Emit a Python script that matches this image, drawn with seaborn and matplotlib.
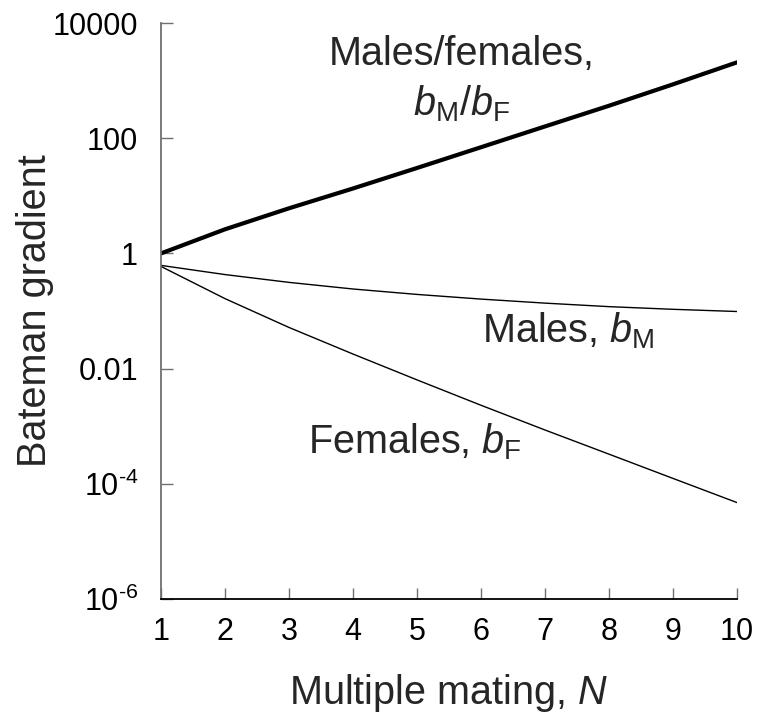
import numpy as np
import pandas as pd
import matplotlib
matplotlib.use("Agg")
import matplotlib.pyplot as plt
import seaborn as sns
from matplotlib.ticker import FixedLocator, FixedFormatter

# ---- data ----
N = [1, 2, 3, 4, 5, 6, 7, 8, 9, 10]
males = [0.619, 0.429, 0.314, 0.241, 0.194, 0.161, 0.137, 0.119, 0.107, 0.098]
females = [0.594, 0.164, 0.0518, 0.0179, 0.00637, 0.00231, 0.000859, 0.000327, 0.000124, 0.0000472]
ratio = [1.0, 2.62, 6.07, 13.4, 30.4, 69.7, 160, 366, 861, 2075]

ytick_vals = [1e4, 1e2, 1, 1e-2, 1e-4, 1e-6]
ytick_labels = ["10000", "100", "1", "0.01", r"$10^{\text{-}4}$", r"$10^{\text{-}6}$"]
xtick_vals = [1, 2, 3, 4, 5, 6, 7, 8, 9, 10]
xtick_labels = ["1", "2", "3", "4", "5", "6", "7", "8", "9", "10"]

sns.set_style("ticks")
plt.rcParams['font.family'] = ['Liberation Sans', 'DejaVu Sans']
plt.rcParams['mathtext.fontset'] = 'custom'
plt.rcParams['mathtext.rm'] = 'Liberation Sans'
plt.rcParams['mathtext.it'] = 'Liberation Sans:italic'
plt.rcParams['mathtext.bf'] = 'Liberation Sans:bold'

df = pd.DataFrame({
    "N": N * 3,
    "value": ratio + males + females,
    "series": ["ratio"] * len(N) + ["males"] * len(N) + ["females"] * len(N),
})

fig = plt.figure(figsize=(7.59, 7.25), dpi=100)
ax = fig.add_axes([161 / 759, 1 - 599 / 725, (737 - 161) / 759, (599 - 23) / 725])

sns.lineplot(data=df[df.series == "ratio"], x="N", y="value", ax=ax, color="black", linewidth=3.0)
sns.lineplot(data=df[df.series == "males"], x="N", y="value", ax=ax, color="black", linewidth=1.0)
sns.lineplot(data=df[df.series == "females"], x="N", y="value", ax=ax, color="black", linewidth=1.0)

ax.set_yscale("log")
ax.set_ylim(1e-6, 1e4)
ax.set_xlim(1, 10)

ax.yaxis.set_major_locator(FixedLocator(ytick_vals))
ax.yaxis.set_major_formatter(FixedFormatter(ytick_labels))
ax.yaxis.set_minor_locator(FixedLocator([]))
ax.xaxis.set_major_locator(FixedLocator(xtick_vals))
ax.xaxis.set_major_formatter(FixedFormatter(xtick_labels))

for s in ["top", "right"]:
    ax.spines[s].set_visible(False)
ax.spines["left"].set_color("#707070")
ax.spines["left"].set_linewidth(1.3)
ax.spines["bottom"].set_color("black")
ax.spines["bottom"].set_linewidth(1.3)

ax.tick_params(axis="y", direction="in", length=8.5, width=1.0, color="#707070",
               labelsize=22, pad=16.5, labelcolor="black")
ax.tick_params(axis="x", direction="in", length=8, width=1.0, color="#707070",
               labelsize=22, pad=13, labelcolor="black")

ax.set_xlabel(r"Multiple mating, $\mathit{N}$", fontsize=28.5, labelpad=18)
ax.set_ylabel("Bateman gradient", fontsize=28.5, labelpad=-1)

tfs = 28.5
ax.text(5.70, 10 ** 3.27, "Males/females,", fontsize=tfs, ha="center", va="baseline")
ax.text(5.70, 10 ** 2.40, r"$\mathit{b}_{\mathrm{M}}/\mathit{b}_{\mathrm{F}}$", fontsize=tfs, ha="center", va="baseline")
ax.text(7.36, 10 ** -1.548, r"Males, $\mathit{b}_{\mathrm{M}}$", fontsize=tfs, ha="center", va="baseline")
ax.text(4.97, 10 ** -3.478, r"Females, $\mathit{b}_{\mathrm{F}}$", fontsize=tfs, ha="center", va="baseline")

fig.savefig("out.png", dpi=100)
